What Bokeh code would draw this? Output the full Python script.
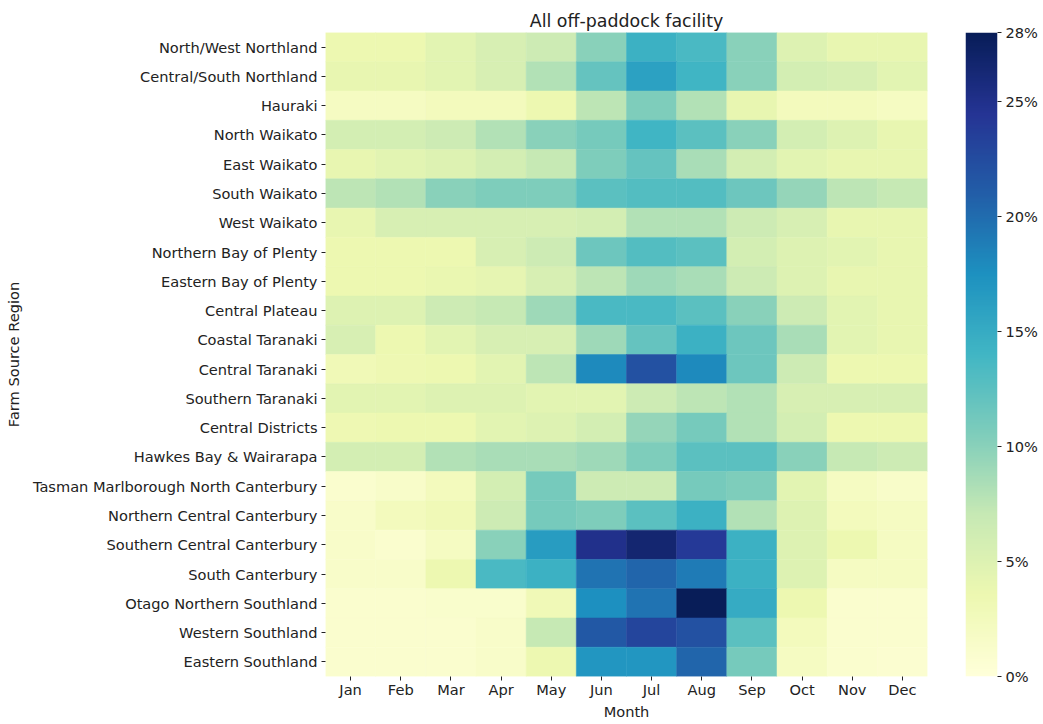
import numpy as np
from bokeh.plotting import figure
from bokeh.layouts import row
from bokeh.models import ColumnDataSource, LinearColorMapper, FixedTicker, PrintfTickFormatter, Range1d
from bokeh.transform import transform
from bokeh.embed import file_html
from bokeh.resources import INLINE

months = ["Jan", "Feb", "Mar", "Apr", "May", "Jun", "Jul", "Aug", "Sep", "Oct", "Nov", "Dec"]
regions = [
    "North/West Northland", "Central/South Northland", "Hauraki", "North Waikato",
    "East Waikato", "South Waikato", "West Waikato", "Northern Bay of Plenty",
    "Eastern Bay of Plenty", "Central Plateau", "Coastal Taranaki", "Central Taranaki",
    "Southern Taranaki", "Central Districts", "Hawkes Bay & Wairarapa",
    "Tasman Marlborough North Canterbury", "Northern Central Canterbury",
    "Southern Central Canterbury", "South Canterbury", "Otago Northern Southland",
    "Western Southland", "Eastern Southland",
]

# percent of herd in off-paddock facilities, by region (rows) and month (cols)
north_west_northland = [3.5, 3.5, 4.5, 5.5, 6.5, 10.0, 14.5, 13.5, 10.0, 5.0, 4.0, 4.0]
central_south_northland = [4.0, 4.0, 4.5, 5.5, 8.0, 12.0, 16.0, 14.0, 10.0, 6.0, 5.5, 4.5]
hauraki = [2.0, 2.0, 2.5, 2.5, 3.5, 7.5, 10.5, 8.0, 4.0, 2.5, 2.5, 2.0]
north_waikato = [6.0, 6.0, 6.5, 8.0, 10.0, 11.0, 14.0, 12.5, 10.0, 6.0, 5.0, 4.0]
east_waikato = [4.0, 4.5, 5.0, 6.0, 7.0, 10.5, 12.0, 8.5, 6.0, 4.5, 4.0, 4.0]
south_waikato = [7.5, 8.0, 10.0, 10.5, 10.5, 12.5, 13.0, 13.0, 11.5, 9.5, 7.5, 7.0]
west_waikato = [4.0, 5.5, 5.5, 5.5, 5.5, 6.0, 8.0, 8.0, 6.5, 5.5, 4.0, 4.0]
northern_bop = [3.5, 3.5, 3.5, 5.5, 6.5, 11.5, 13.0, 12.5, 6.0, 5.0, 4.5, 4.0]
eastern_bop = [3.5, 3.5, 3.8, 4.2, 5.5, 7.5, 9.0, 8.5, 6.5, 5.0, 4.0, 4.0]
central_plateau = [5.0, 5.0, 6.5, 7.0, 9.0, 13.5, 13.5, 12.5, 10.0, 6.5, 4.5, 4.0]
coastal_taranaki = [5.5, 3.5, 4.5, 5.5, 5.5, 9.0, 12.0, 14.5, 11.5, 8.5, 4.5, 4.0]
central_taranaki = [3.0, 3.3, 3.5, 4.5, 7.5, 18.0, 22.0, 18.0, 11.5, 6.5, 3.5, 3.5]
southern_taranaki = [4.5, 4.5, 5.0, 5.0, 4.5, 4.5, 6.5, 7.5, 8.0, 5.5, 5.5, 5.5]
central_districts = [3.3, 3.5, 3.5, 4.5, 5.0, 6.0, 9.5, 11.0, 8.0, 6.0, 3.5, 3.5]
hawkes_bay = [6.0, 6.0, 8.0, 8.5, 8.5, 9.0, 10.5, 12.5, 12.5, 10.0, 7.0, 6.5]
tasman_marl_nc = [1.0, 1.5, 2.5, 6.0, 11.0, 6.5, 6.5, 11.0, 10.5, 4.5, 2.0, 1.5]
northern_central_cant = [1.5, 2.5, 3.0, 6.5, 11.0, 10.5, 12.5, 14.5, 8.0, 5.0, 2.5, 2.0]
southern_central_cant = [1.5, 1.0, 2.0, 10.0, 16.5, 25.0, 26.5, 24.0, 14.5, 5.0, 3.5, 2.0]
south_canterbury = [1.5, 1.5, 3.5, 13.5, 14.5, 19.5, 20.5, 19.0, 14.5, 5.0, 2.0, 2.0]
otago_northern_southland = [1.0, 1.0, 1.2, 1.2, 3.0, 17.5, 19.5, 28.0, 15.0, 3.5, 1.0, 1.0]
western_southland = [1.0, 1.0, 1.0, 1.5, 7.0, 21.5, 23.0, 22.0, 12.5, 2.5, 1.0, 1.0]
eastern_southland = [1.0, 1.0, 1.0, 1.5, 3.5, 17.0, 17.0, 20.5, 11.0, 2.0, 1.0, 0.8]

rows = [
    north_west_northland, central_south_northland, hauraki, north_waikato,
    east_waikato, south_waikato, west_waikato, northern_bop, eastern_bop,
    central_plateau, coastal_taranaki, central_taranaki, southern_taranaki,
    central_districts, hawkes_bay, tasman_marl_nc, northern_central_cant,
    southern_central_cant, south_canterbury, otago_northern_southland,
    western_southland, eastern_southland,
]

cbar_ticks = [0, 5, 10, 15, 20, 25, 28]
vmin, vmax = 0, 28

# YlGnBu colormap, light to dark, interpolated to 256 steps
ylgnbu = ["#ffffd9", "#edf8b1", "#c7e9b4", "#7fcdbb", "#41b6c4",
          "#1d91c0", "#225ea8", "#253494", "#081d58"]
def _rgb(h):
    return [int(h[i:i + 2], 16) for i in (1, 3, 5)]
anchors = np.array([_rgb(c) for c in ylgnbu], dtype=float)
pos = np.linspace(0, 1, len(ylgnbu))
palette = []
for t in np.linspace(0, 1, 256):
    r = np.interp(t, pos, anchors[:, 0])
    g = np.interp(t, pos, anchors[:, 1])
    b = np.interp(t, pos, anchors[:, 2])
    palette.append("#%02x%02x%02x" % (int(round(r)), int(round(g)), int(round(b))))

xs, ys, vals = [], [], []
for reg, rw in zip(regions, rows):
    for m, v in zip(months, rw):
        xs.append(m)
        ys.append(reg)
        vals.append(v)
source = ColumnDataSource(dict(month=xs, region=ys, value=vals))

mapper = LinearColorMapper(palette=palette, low=vmin, high=vmax)

FONT = "DejaVu Sans"
TXT = "#222222"
FS = "14.6px"
H = 722

p = figure(
    width=940, height=H,
    x_range=months, y_range=list(reversed(regions)),
    output_backend="svg", toolbar_location=None,
    title="All off-paddock facility",
    min_border_left=325, min_border_right=13, min_border_top=32, min_border_bottom=46,
)
p.rect(x="month", y="region", width=1, height=1, source=source,
       fill_color=transform("value", mapper), line_color=transform("value", mapper),
       line_width=0.5)

p.title.align = "center"
p.title.text_font = FONT
p.title.text_font_size = "17.4px"
p.title.text_font_style = "normal"
p.title.text_color = TXT
p.title.standoff = 4

for ax in (p.xaxis[0], p.yaxis[0]):
    ax.axis_line_color = None
    ax.major_tick_line_color = TXT
    ax.major_tick_in = 0
    ax.major_tick_out = 4
    ax.minor_tick_line_color = None
    ax.major_label_text_font = FONT
    ax.major_label_text_font_size = FS
    ax.major_label_text_color = TXT
    ax.axis_label_text_font = FONT
    ax.axis_label_text_font_size = FS
    ax.axis_label_text_font_style = "normal"
    ax.axis_label_text_color = TXT

p.xaxis.axis_label = "Month"
p.yaxis.axis_label = "Farm Source Region"
p.xaxis.major_label_standoff = 0
p.yaxis.major_label_standoff = 4
p.xaxis.axis_label_standoff = 2
p.yaxis.axis_label_standoff = 8

p.grid.grid_line_color = None
p.outline_line_color = None
p.x_range.range_padding = 0
p.y_range.range_padding = 0

# colour bar as its own small figure: the frame is the bar
cb = figure(
    width=100, height=H,
    x_range=Range1d(0, 1), y_range=Range1d(vmin, vmax),
    output_backend="svg", toolbar_location=None,
    x_axis_location=None, y_axis_location="right",
    min_border_left=25, min_border_right=36, min_border_top=32, min_border_bottom=46,
)
cb.image(image=[np.linspace(vmin, vmax, 256).reshape(-1, 1)], x=0, y=vmin, dw=1, dh=vmax - vmin,
         color_mapper=mapper)
cb.grid.grid_line_color = None
cb.outline_line_color = None
ya = cb.yaxis[0]
ya.ticker = FixedTicker(ticks=cbar_ticks)
ya.formatter = PrintfTickFormatter(format="%d%%")
ya.axis_line_color = None
ya.major_tick_line_color = TXT
ya.major_tick_in = 0
ya.major_tick_out = 4
ya.minor_tick_line_color = None
ya.major_label_text_font = FONT
ya.major_label_text_font_size = FS
ya.major_label_text_color = TXT
ya.major_label_standoff = 4

layout = row(p, cb, spacing=0)
open("out.html", "w").write(file_html(layout, INLINE))
